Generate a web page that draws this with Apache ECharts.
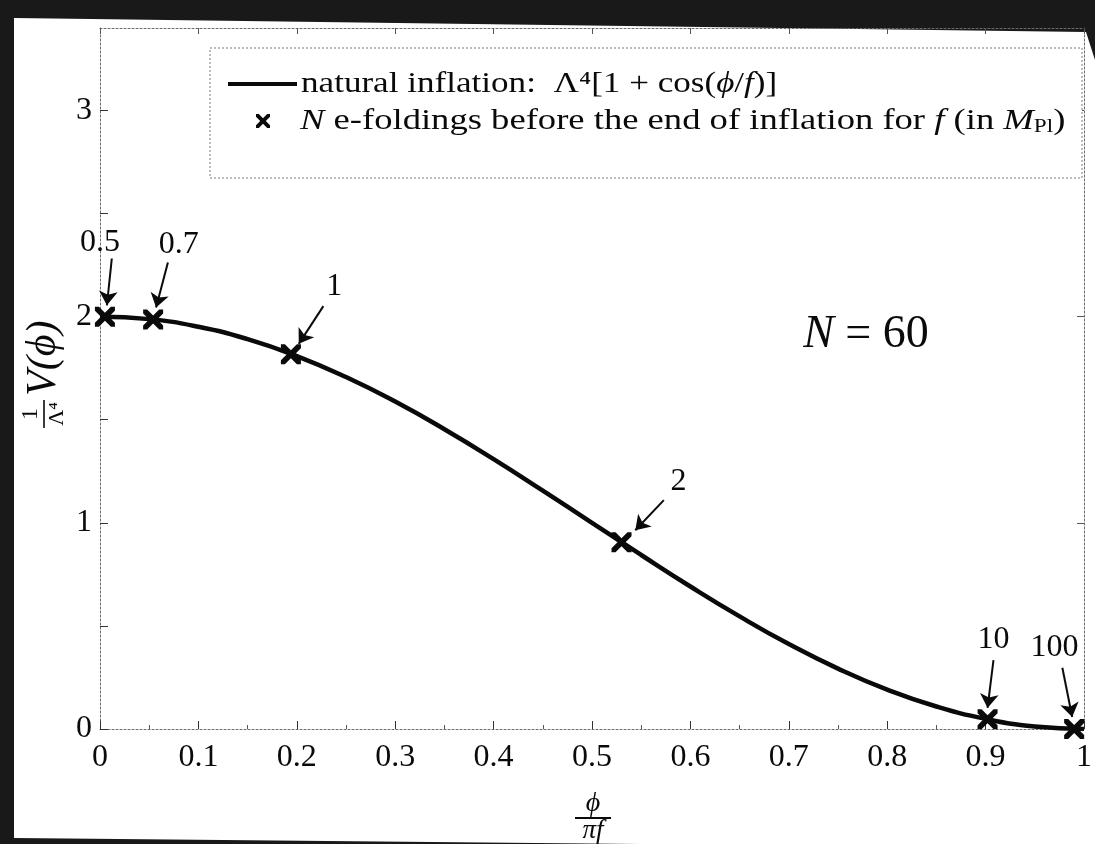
<!DOCTYPE html>
<html>
<head>
<meta charset="utf-8">
<title>Natural inflation potential</title>
<script src="https://cdn.jsdelivr.net/npm/echarts@6/dist/echarts.min.js"></script>
<style>
  html, body { margin: 0; padding: 0; background: #191919; }
  #chart { width: 1095px; height: 844px; }
</style>
</head>
<body>
<div id="chart"></div>
<script>
// Potential V(phi)/Lambda^4 = 1 + cos(phi/f), sampled against phi/(pi f)
const curveX = [0, 0.05, 0.1, 0.15, 0.2, 0.25, 0.3, 0.35, 0.4, 0.45, 0.5,
                0.55, 0.6, 0.65, 0.7, 0.75, 0.8, 0.85, 0.9, 0.95, 1];
const curveY = [2.000, 1.988, 1.951, 1.891, 1.809, 1.707, 1.588, 1.454, 1.309, 1.156, 1.000,
                0.844, 0.691, 0.546, 0.412, 0.293, 0.191, 0.109, 0.049, 0.012, 0.000];

// Field value N = 60 e-foldings before the end of inflation, for each f (in M_Pl)
const fLabels = ['0.5', '0.7', '1', '2', '10', '100'];
const markX = [0.005, 0.054, 0.194, 0.530, 0.902, 0.990];
const markY = [2.000, 1.986, 1.818, 0.906, 0.047, 0.000];

// Axis ticks
const xTicks = [0, 0.1, 0.2, 0.3, 0.4, 0.5, 0.6, 0.7, 0.8, 0.9, 1];
const yTicks = [0, 1, 2, 3];

// Annotation layout: offsets from each marker, in axis units
const annot = [
  { label: [-0.005, 0.36], from: [0.007, 0.282], to: [0.002, 0.055] },
  { label: [0.026, 0.365], from: [0.015, 0.277], to: [0.003, 0.058] },
  { label: [0.044, 0.326], from: [0.033, 0.233], to: [0.008, 0.050] },
  { label: [0.058, 0.292], from: [0.043, 0.204], to: [0.014, 0.058] },
  { label: [0.006, 0.389], from: [0.006, 0.287], to: [0.000, 0.055] },
  { label: [-0.020, 0.394], from: [-0.012, 0.297], to: [-0.002, 0.058] }
];

const SERIF = '"Liberation Serif", "DejaVu Serif", serif';
const INK = '#0a0a0a';
const FRAME = '#6a6a6a';
const crossPath = 'path://M0,0 L4,0 L10,6 L16,0 L20,0 L20,4 L14,10 L20,16 L20,20 L16,20 L10,14 L4,20 L0,20 L0,16 L6,10 L0,4 Z';
const crossPts = [[0,0],[4,0],[10,6],[16,0],[20,0],[20,4],[14,10],[20,16],[20,20],[16,20],[10,14],[4,20],[0,20],[0,16],[6,10],[0,4]];

const chart = echarts.init(document.getElementById('chart'), null, { renderer: 'canvas' });

const frameLine = { show: true, onZero: false, lineStyle: { color: FRAME, width: 1, type: [2, 2] } };

const option = {
  backgroundColor: '#191919',
  animation: false,
  grid: { left: 100, right: 11, top: 28, bottom: 115 },
  xAxis: [
    {
      type: 'value', min: 0, max: 1, interval: 0.1,
      axisLine: frameLine,
      axisTick: { inside: true, length: 8, lineStyle: { color: '#333', width: 1 } },
      minorTick: { show: true, splitNumber: 2, length: 4, lineStyle: { color: '#555' } },
      splitLine: { show: false },
      axisLabel: {
        margin: 13, color: INK, fontFamily: SERIF, fontSize: 32,
        customValues: xTicks,
        formatter: v => (v === 0 ? '0' : v === 1 ? '1' : v.toFixed(1))
      }
    },
    {
      type: 'value', position: 'top', min: 0, max: 1, interval: 0.1,
      axisLine: frameLine,
      axisTick: { inside: true, length: 6, lineStyle: { color: '#555' } },
      axisLabel: { show: false }, splitLine: { show: false }
    }
  ],
  yAxis: [
    {
      type: 'value', min: 0, max: 3.4, interval: 1,
      axisLine: frameLine,
      axisTick: { inside: true, length: 8, customValues: [0, 0.5, 1, 1.5, 2, 2.5, 3], lineStyle: { color: '#333' } },
      splitLine: { show: false },
      axisLabel: {
        margin: 8, color: INK, fontFamily: SERIF, fontSize: 32,
        customValues: yTicks, formatter: v => String(v)
      }
    },
    {
      type: 'value', position: 'right', min: 0, max: 3.4, interval: 1,
      axisLine: frameLine,
      axisTick: { inside: true, length: 7, customValues: [0, 1, 2, 3], lineStyle: { color: '#555' } },
      axisLabel: { show: false }, splitLine: { show: false }
    }
  ],
  series: [
    {
      name: 'natural inflation',
      type: 'line',
      data: curveX.map((x, i) => [x, curveY[i]]),
      smooth: true,
      showSymbol: false,
      lineStyle: { color: INK, width: 4.5 },
      z: 3
    },
    {
      name: 'N e-foldings',
      type: 'scatter',
      data: markX.map((x, i) => [x, markY[i]]),
      symbol: crossPath,
      symbolSize: 20,
      itemStyle: { color: INK, opacity: 1 },
      z: 4,
      markLine: {
        silent: true,
        symbol: ['none', 'arrow'],
        symbolSize: 14,
        lineStyle: { color: INK, width: 2, type: 'solid', opacity: 1 },
        itemStyle: { color: INK },
        label: { show: false },
        data: annot.map((a, i) => [
          { coord: [markX[i] + a.from[0], markY[i] + a.from[1]] },
          { coord: [markX[i] + a.to[0], markY[i] + a.to[1]] }
        ])
      }
    },
    {
      name: 'f values',
      type: 'scatter',
      data: annot.map((a, i) => ({ name: fLabels[i], value: [markX[i] + a.label[0], markY[i] + a.label[1]] })),
      symbolSize: 1,
      itemStyle: { color: 'rgba(0,0,0,0)', opacity: 1 },
      label: {
        show: true, position: 'inside', formatter: p => p.name,
        color: INK, opacity: 1, fontFamily: SERIF, fontSize: 32
      },
      silent: true,
      z: 5
    }
  ],
  graphic: [
    // paper area
    {
      type: 'polygon', z: -100, silent: true,
      shape: { points: [[14, 18], [1086, 32], [1095, 60], [1095, 844], [640, 844], [14, 838]] },
      style: { fill: '#ffffff' }
    },
    // legend
    {
      type: 'rect', z: 50, silent: true,
      shape: { x: 210, y: 48, width: 872, height: 130 },
      style: { fill: '#ffffff', stroke: '#7a7a7a', lineWidth: 1, lineDash: [2, 2] }
    },
    {
      type: 'line', z: 51, silent: true,
      shape: { x1: 228, y1: 84, x2: 297, y2: 84 },
      style: { stroke: INK, lineWidth: 4 }
    },
    {
      type: 'text', z: 51, silent: true, x: 301, y: 84, scaleX: 1.17,
      style: {
        text: 'natural inflation:  Λ⁴[1 + cos({i|ϕ}/{i|f})]',
        fill: INK, font: '30px ' + SERIF, verticalAlign: 'middle',
        rich: { i: { fontStyle: 'italic', fontFamily: SERIF, fontSize: 30 } }
      }
    },
    {
      type: 'polygon', z: 51, silent: true, x: 256, y: 114, scaleX: 0.7, scaleY: 0.7,
      shape: { points: crossPts },
      style: { fill: INK }
    },
    {
      type: 'text', z: 51, silent: true, x: 300, y: 121, scaleX: 1.22,
      style: {
        text: '{i|N} e-foldings before the end of inflation for {i|f} (in {i|M}{s|Pl})',
        fill: INK, font: '30px ' + SERIF, verticalAlign: 'middle',
        rich: {
          i: { fontStyle: 'italic', fontFamily: SERIF, fontSize: 30 },
          s: { fontFamily: SERIF, fontSize: 19, verticalAlign: 'bottom', padding: [12, 0, 0, 0] }
        }
      }
    },
    // N = 60
    {
      type: 'text', z: 51, silent: true, x: 866, y: 335,
      style: {
        text: '{i|N} = 60', fill: INK, font: '46px ' + SERIF,
        align: 'center', verticalAlign: 'middle',
        rich: { i: { fontStyle: 'italic', fontFamily: SERIF, fontSize: 46 } }
      }
    },
    // y-axis title: (1/Lambda^4) V(phi), rotated
    {
      type: 'group', x: 44, y: 366, rotation: Math.PI / 2, z: 51, silent: true,
      children: [
        { type: 'text', x: -48, y: -13, style: { text: '1', fill: INK, font: '24px ' + SERIF, align: 'center', verticalAlign: 'middle' } },
        { type: 'line', shape: { x1: -62, y1: 0, x2: -34, y2: 0 }, style: { stroke: INK, lineWidth: 1.6 } },
        { type: 'text', x: -48, y: 13, style: { text: 'Λ⁴', fill: INK, font: '22px ' + SERIF, align: 'center', verticalAlign: 'middle' } },
        { type: 'text', x: -30, y: 0, style: { text: 'V(ϕ)', fill: INK, font: 'italic 42px ' + SERIF, align: 'left', verticalAlign: 'middle' } }
      ]
    },
    // x-axis title: phi / (pi f)
    {
      type: 'group', x: 593, y: 818, z: 51, silent: true,
      children: [
        { type: 'text', x: 0, y: -14, style: { text: 'ϕ', fill: INK, font: 'italic 28px ' + SERIF, align: 'center', verticalAlign: 'middle' } },
        { type: 'line', shape: { x1: -18, y1: 0, x2: 18, y2: 0 }, style: { stroke: INK, lineWidth: 1.8 } },
        { type: 'text', x: 0, y: 13, style: { text: 'πf', fill: INK, font: 'italic 27px ' + SERIF, align: 'center', verticalAlign: 'middle' } }
      ]
    }
  ]
};

chart.setOption(option);
</script>
</body>
</html>
